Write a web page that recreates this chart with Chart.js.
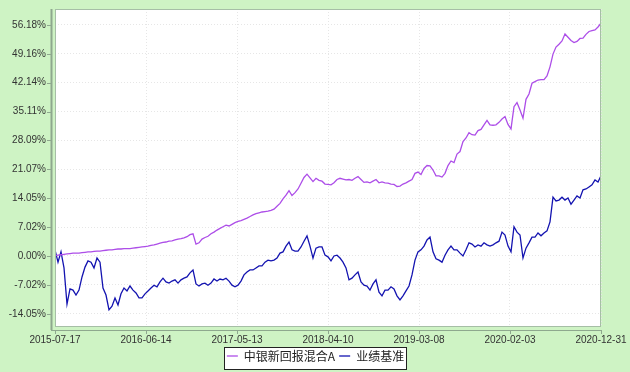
<!DOCTYPE html>
<html>
<head>
<meta charset="utf-8">
<script src="https://cdn.jsdelivr.net/npm/chart.js@4.4.1/dist/chart.umd.min.js"></script>
<style>
    html, body { margin: 0; padding: 0; background: #cef3c4; }
    canvas { display: block; }
</style>
</head>
<body>
<canvas id="chart" width="630" height="372"></canvas>
<script>
const seriesNames = ["中银新回报混合A", "业绩基准"];
const xTickLabels = ["2015-07-17", "2016-06-14", "2017-05-13", "2018-04-10", "2019-03-08", "2020-02-03", "2020-12-31"];
const yTickValues = [-14.05, -7.02, 0, 7.02, 14.05, 21.07, 28.09, 35.11, 42.14, 49.16, 56.18];

// cumulative return (%), sampled evenly from 2015-07-17 to 2020-12-31
const fundValues = [
    0.0, 0.2, 0.3, 0.4, 0.5, 0.6, 0.7, 0.7, 0.7, 0.8,
    0.9, 1.0, 1.0, 1.1, 1.2, 1.2, 1.3, 1.4, 1.5, 1.5,
    1.6, 1.7, 1.7, 1.8, 1.8, 1.8, 1.9, 2.0, 2.1, 2.2,
    2.3, 2.4, 2.6, 2.7, 2.9, 3.1, 3.3, 3.4, 3.6, 3.7,
    3.9, 4.1, 4.2, 4.4, 4.7, 5.2, 5.4, 2.9, 3.2, 4.1,
    4.5, 4.8, 5.4, 5.8, 6.3, 6.7, 7.1, 7.5, 7.3, 7.7,
    8.1, 8.4, 8.6, 8.9, 9.2, 9.6, 10.0, 10.3, 10.5, 10.7,
    10.8, 10.9, 11.1, 11.4, 12.1, 12.8, 13.9, 14.8, 15.9, 14.7,
    15.4, 16.3, 17.7, 19.1, 19.9, 19.0, 18.1, 18.9, 18.4, 18.2,
    17.5, 17.4, 17.3, 17.8, 18.6, 18.9, 18.7, 18.5, 18.6, 18.4,
    18.9, 19.3, 18.6, 17.9, 18.0, 17.8, 18.2, 18.6, 17.8, 18.0,
    17.8, 17.7, 17.5, 17.4, 16.9, 17.0, 17.5, 17.8, 18.2, 18.6,
    20.1, 20.4, 19.8, 21.3, 22.0, 21.9, 20.9, 19.5, 19.5, 19.2,
    20.1, 22.0, 23.1, 22.7, 24.8, 25.4, 27.8, 28.7, 30.0, 29.5,
    29.4, 30.5, 30.8, 31.9, 33.0, 31.9, 31.8, 31.9, 32.5, 33.3,
    33.9, 32.0, 30.9, 36.3, 37.3, 35.5, 33.5, 38.1, 39.4, 42.0,
    42.4, 42.8, 42.9, 42.9, 43.8, 46.0, 49.1, 50.8, 51.5, 52.3,
    54.0, 53.2, 52.4, 51.9, 52.2, 52.9, 53.0, 53.9, 54.6, 54.8,
    55.0, 55.7, 56.6
];
const benchmarkValues = [
    1.5, -1.5, 1.0, -2.9, -11.7, -8.0, -8.3, -9.5, -8.3, -5.1,
    -2.7, -1.2, -1.5, -2.9, -0.5, -1.5, -7.8, -9.5, -13.1, -12.2,
    -10.2, -11.9, -9.2, -7.8, -8.5, -7.3, -8.3, -9.0, -10.2, -10.2,
    -9.2, -8.5, -7.8, -7.1, -7.5, -6.3, -5.4, -6.3, -6.6, -6.1,
    -5.8, -6.6, -5.8, -5.4, -5.1, -4.1, -3.4, -6.8, -7.3, -6.8,
    -6.6, -7.1, -6.6, -5.6, -6.1, -5.6, -5.8, -5.4, -6.1, -7.1,
    -7.5, -7.1, -6.1, -4.6, -3.9, -3.4, -3.4, -2.9, -2.4, -2.4,
    -1.5, -1.0, -1.2, -1.0, -0.5, 0.7, 1.0, 2.4, 3.4, 1.5,
    1.2, 1.2, 2.2, 3.6, 4.9, 2.4, -0.5, 1.9, 2.2, 2.2,
    0.2, -0.2, -1.2, 0.0, 0.2, -0.5, -1.5, -2.9, -5.8, -5.4,
    -4.6, -3.9, -6.3, -7.1, -7.3, -8.3, -6.8, -5.8, -8.8, -9.7,
    -8.3, -8.3, -7.5, -8.0, -9.7, -10.7, -9.7, -8.5, -7.3, -4.6,
    -1.0, 1.0, 1.5, 2.4, 3.9, 4.6, 1.0, -0.7, -1.0, -1.5,
    0.2, 1.5, 2.4, 1.5, 1.5, 0.7, 0.0, 1.5, 3.2, 2.9,
    2.2, 2.7, 2.4, 3.2, 2.7, 2.4, 2.7, 3.2, 3.6, 5.8,
    5.1, 2.4, 1.0, 7.1, 5.8, 5.1, -0.5, 1.9, 3.2, 4.6,
    4.6, 5.6, 4.9, 5.6, 6.1, 8.3, 14.3, 13.4, 13.6, 14.3,
    13.6, 14.1, 12.6, 13.6, 14.6, 14.1, 16.1, 16.3, 16.8, 17.3,
    18.5, 18.0, 19.5
];

const BG = "#cef3c4";
const LABEL_FONT = { size: 10, family: "'Liberation Sans', Arial, sans-serif" };
const lastIndex = fundValues.length - 1;

// frame, axis lines, tick marks and the boxed legend like the original
const framePlugin = {
    id: "frame",
    afterLayout(chart) {
        // legend sits centred under the plot, not under the whole canvas
        chart.legend.left = 30;
        chart.legend.right = 601;
    },
    beforeDraw(chart) {
        const { ctx, chartArea: a } = chart;
        ctx.save();
        ctx.fillStyle = BG;
        ctx.fillRect(0, 0, chart.width, chart.height);
        ctx.fillStyle = "#ffffff";
        ctx.fillRect(a.left, a.top, a.right - a.left, a.bottom - a.top);

        const lg = chart.legend;
        const hb = lg.legendHitBoxes;
        if (hb && hb.length) {
            const last = hb[hb.length - 1];
            const l = Math.round(hb[0].left - 3);
            const r = Math.round(last.left + last.width + 2);
            const t = Math.round(lg.top + 1);
            ctx.fillStyle = "#ffffff";
            ctx.fillRect(l, t, r - l, 22);
            ctx.strokeStyle = "#222";
            ctx.lineWidth = 1;
            ctx.strokeRect(l + 0.5, t + 0.5, r - l, 22);
        }
        ctx.restore();
    },
    afterDraw(chart) {
        const { ctx, chartArea: a, scales } = chart;
        ctx.save();
        ctx.strokeStyle = "#a6bea6";
        ctx.lineWidth = 1;
        ctx.strokeRect(a.left + 0.5, a.top + 0.5, a.right - a.left - 1, a.bottom - a.top - 1);

        // y axis line + ticks
        ctx.strokeStyle = "#8ea88e";
        ctx.lineWidth = 2;
        ctx.beginPath();
        ctx.moveTo(a.left - 3.5, a.top);
        ctx.lineTo(a.left - 3.5, a.bottom + 3);
        ctx.stroke();
        ctx.lineWidth = 1;
        ctx.beginPath();
        scales.y.ticks.forEach((t) => {
            const y = Math.round(scales.y.getPixelForValue(t.value)) + 0.5;
            ctx.moveTo(a.left - 8, y);
            ctx.lineTo(a.left - 4, y);
        });
        // x axis line + ticks
        ctx.moveTo(a.left - 4, a.bottom + 3.5);
        ctx.lineTo(a.right, a.bottom + 3.5);
        scales.x.ticks.forEach((t) => {
            const x = Math.round(scales.x.getPixelForValue(t.value)) + 0.5;
            ctx.moveTo(x, a.bottom + 3);
            ctx.lineTo(x, a.bottom + 7);
        });
        ctx.stroke();
        ctx.restore();
    },
};

const toPoints = (values) => values.map((v, i) => ({ x: i, y: v }));

new Chart(document.getElementById("chart"), {
    type: "line",
    plugins: [framePlugin],
    data: {
        datasets: [
            {
                label: seriesNames[0],
                data: toPoints(fundValues),
                borderColor: "#ad4ee8",
                borderWidth: 1.3,
            },
            {
                label: seriesNames[1],
                data: toPoints(benchmarkValues),
                borderColor: "#1313b0",
                borderWidth: 1.3,
            },
        ],
    },
    options: {
        responsive: false,
        animation: false,
        devicePixelRatio: 1,
        layout: { padding: { left: 0, right: 29, top: 9, bottom: 0 } },
        elements: { point: { radius: 0 }, line: { tension: 0 } },
        plugins: {
            tooltip: { enabled: false },
            legend: {
                position: "bottom",
                labels: {
                    usePointStyle: true,
                    pointStyle: "line",
                    pointStyleWidth: 11,
                    padding: 4,
                    color: "#222",
                    font: { size: 12, family: "'Noto Sans CJK SC', sans-serif" },
                },
            },
        },
        scales: {
            x: {
                type: "linear",
                min: 0,
                max: lastIndex,
                afterBuildTicks: (s) => {
                    s.ticks = xTickLabels.map((_, i) => ({ value: (lastIndex * i) / (xTickLabels.length - 1) }));
                },
                afterFit: (s) => { s.height = 19; },
                ticks: {
                    autoSkip: false,
                    maxRotation: 0,
                    padding: 0,
                    color: "#333",
                    font: LABEL_FONT,
                    callback: (value, index) => xTickLabels[index],
                },
                // tick marks are drawn by the plugin; the invisible ones only space the labels
                grid: { drawTicks: true, tickLength: 7, tickColor: "rgba(0,0,0,0)", color: "#e6e6e6" },
                border: { display: false, dash: [1, 2] },
            },
            y: {
                min: -17.27,
                max: 60.07,
                afterBuildTicks: (s) => {
                    s.ticks = yTickValues.map((v) => ({ value: v }));
                },
                afterFit: (s) => { s.width = 55; },
                ticks: {
                    autoSkip: false,
                    padding: 0,
                    color: "#333",
                    font: LABEL_FONT,
                    callback: (value) => value.toFixed(2) + "%",
                },
                grid: { drawTicks: true, tickLength: 9, tickColor: "rgba(0,0,0,0)", color: "#e6e6e6" },
                border: { display: false, dash: [1, 2] },
            },
        },
    },
});
</script>
</body>
</html>
